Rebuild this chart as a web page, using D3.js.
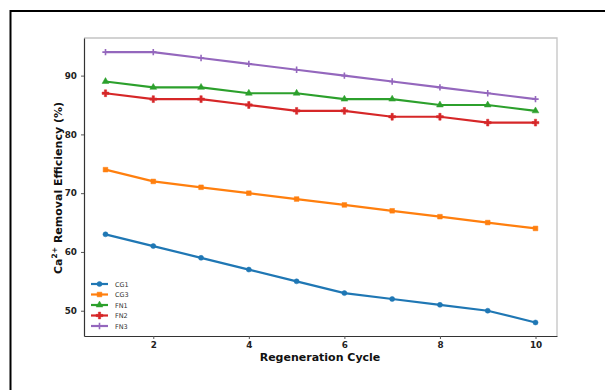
<!DOCTYPE html>
<head>
<meta charset="utf-8" />
<script src="https://d3js.org/d3.v7.min.js"></script>
<style>
    body { margin: 0; background: #fff; font-family: "DejaVu Sans", sans-serif; }
</style>
</head>
<body>
<div id="chart"></div>
<script>
    // data
    var cycles = [1, 2, 3, 4, 5, 6, 7, 8, 9, 10];
    var seriesNames = ["CG1", "CG3", "FN1", "FN2", "FN3"];
    var cg1 = [63, 61, 59, 57, 55, 53, 52, 51, 50, 48];
    var cg3 = [74, 72, 71, 70, 69, 68, 67, 66, 65, 64];
    var fn1 = [89, 88, 88, 87, 87, 86, 86, 85, 85, 84];
    var fn2 = [87, 86, 86, 85, 84, 84, 83, 83, 82, 82];
    var fn3 = [94, 94, 93, 92, 91, 90, 89, 88, 87, 86];
    var xTicks = [2, 4, 6, 8, 10];
    var yTicks = [50, 60, 70, 80, 90];

    var colors = ["#1f77b4", "#ff7f0e", "#2ca02c", "#d62728", "#9467bd"];
    // thin plus like matplotlib "+"
    var thinPlus = {
        draw: function(ctx, size) {
            var r = Math.sqrt(size) / 2;
            ctx.moveTo(-r, 0); ctx.lineTo(r, 0);
            ctx.moveTo(0, -r); ctx.lineTo(0, r);
        }
    };
    var symbols = [d3.symbolCircle, d3.symbolSquare, d3.symbolTriangle, d3.symbolCross, thinPlus];
    var symSizes = [20, 22, 20, 26, 40];
    var allValues = [cg1, cg3, fn1, fn2, fn3];

    var width = 605, height = 390;
    var pLeft = 84, pRight = 557, pTop = 38, pBottom = 336;

    var svg = d3.select("#chart").append("svg")
        .attr("width", width).attr("height", height);

    // outer frame
    svg.append("rect").attr("x", 10.5).attr("y", 11).attr("width", 600).attr("height", 390)
        .attr("fill", "none").attr("stroke", "#000").attr("stroke-width", 2);

    var x = d3.scaleLinear().domain([0.55, 10.45]).range([pLeft, pRight]);
    var y = d3.scaleLinear().domain([45.7, 96.4]).range([pBottom, pTop]);

    // light top / right spines
    svg.append("path")
        .attr("d", "M" + pLeft + "," + pTop + "H" + pRight + "V" + pBottom)
        .attr("fill", "none").attr("stroke", "#c4c4c4").attr("stroke-width", 1.3);

    var xAxis = svg.append("g").attr("transform", "translate(0," + pBottom + ")")
        .call(d3.axisBottom(x).tickValues(xTicks).tickSize(3).tickSizeOuter(0).tickPadding(3));
    var yAxis = svg.append("g").attr("transform", "translate(" + pLeft + ",0)")
        .call(d3.axisLeft(y).tickValues(yTicks).tickSize(3).tickSizeOuter(0).tickPadding(4));

    [xAxis, yAxis].forEach(function(a) {
        a.select(".domain").attr("stroke", "#333").attr("stroke-width", 1.2);
        a.selectAll(".tick line").attr("stroke", "#555");
        a.selectAll("text").attr("font-size", 8.8).attr("font-weight", "bold")
            .attr("font-family", "DejaVu Sans").attr("fill", "#222");
    });

    var line = d3.line()
        .x(function(d, i) { return x(cycles[i]); })
        .y(function(d) { return y(d); });

    allValues.forEach(function(vals, k) {
        svg.append("path").datum(vals)
            .attr("d", line)
            .attr("fill", "none")
            .attr("stroke", colors[k])
            .attr("stroke-width", 2.2);

        var sym = d3.symbol().type(symbols[k]).size(symSizes[k]);
        svg.append("g").selectAll("path")
            .data(vals)
            .join("path")
            .attr("transform", function(d, i) { return "translate(" + x(cycles[i]) + "," + y(d) + ")"; })
            .attr("d", sym)
            .attr("fill", k == 4 ? "none" : colors[k])
            .attr("stroke", colors[k])
            .attr("stroke-width", k == 4 ? 1.6 : 0.5);
    });

    // legend
    var legend = svg.append("g").attr("transform", "translate(91,284)");
    seriesNames.forEach(function(name, k) {
        var g = legend.append("g").attr("transform", "translate(0," + (k * 10.5) + ")");
        g.append("line").attr("x1", 0).attr("x2", 17).attr("y1", 0).attr("y2", 0)
            .attr("stroke", colors[k]).attr("stroke-width", 2.2);
        g.append("path").attr("transform", "translate(8.5,0)")
            .attr("d", d3.symbol().type(symbols[k]).size(symSizes[k]))
            .attr("fill", k == 4 ? "none" : colors[k])
            .attr("stroke", colors[k]).attr("stroke-width", k == 4 ? 1.6 : 0.5);
        g.append("text").attr("x", 24).attr("y", 2.5).text(name)
            .attr("font-size", 6.5).attr("fill", "#333").attr("font-family", "DejaVu Sans");
    });

    // axis titles
    svg.append("text").attr("x", 320).attr("y", 361)
        .attr("text-anchor", "middle").attr("font-size", 11).attr("font-weight", "bold")
        .attr("font-family", "DejaVu Sans").attr("fill", "#111")
        .text("Regeneration Cycle");

    var yl = svg.append("text")
        .attr("transform", "translate(62,188) rotate(-90)")
        .attr("text-anchor", "middle").attr("font-size", 11).attr("font-weight", "bold")
        .attr("font-family", "DejaVu Sans").attr("fill", "#111");
    yl.append("tspan").text("Ca");
    yl.append("tspan").attr("font-size", 7.5).attr("dy", -5).text("2+");
    yl.append("tspan").attr("dy", 5).text(" Removal Efficiency (%)");
</script>
</body>
